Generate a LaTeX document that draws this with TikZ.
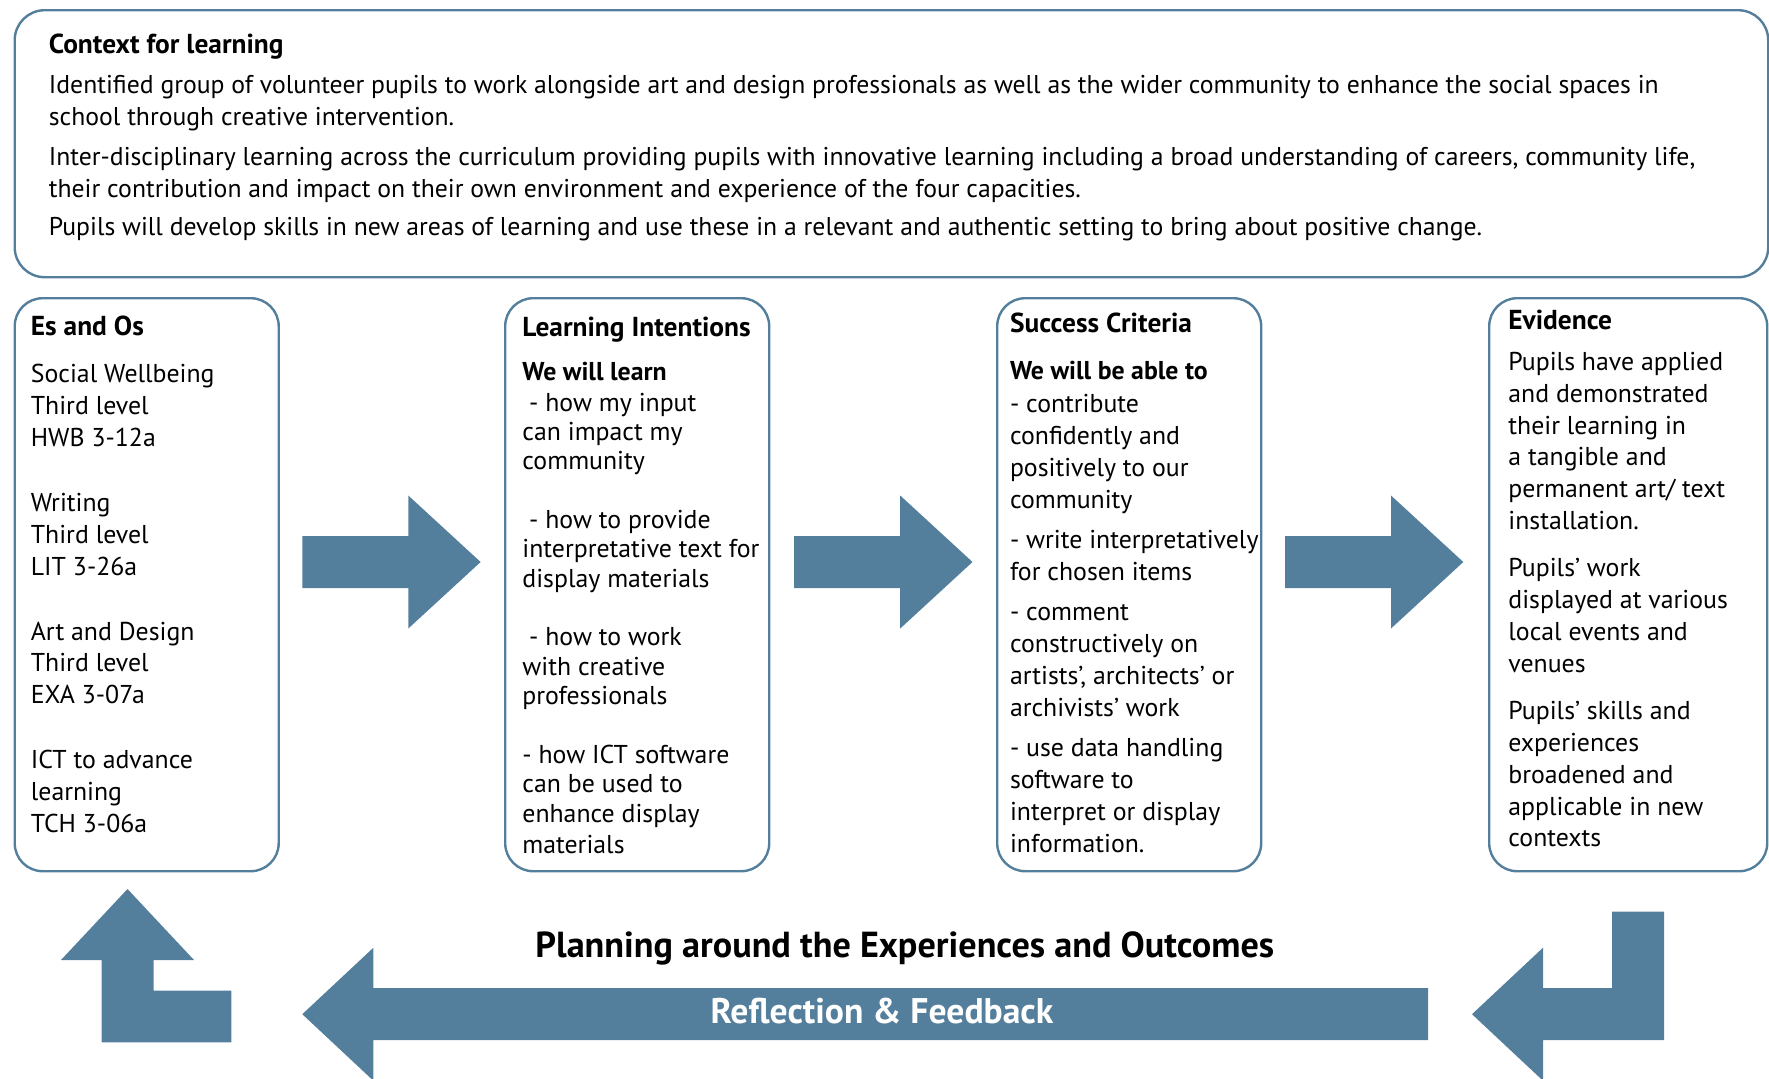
\documentclass[tikz,border=0pt]{standalone}
\usepackage{fontspec}
\setmainfont{PT Sans}
\definecolor{steel}{RGB}{84,127,156}

\newcommand{\topline}{\rule{0pt}{10pt}}
\newcommand{\heading}[1]{{\fontsize{13.7}{15.9}\selectfont\bfseries #1}}

\tikzset{
    panel/.style={draw=steel, line width=1.2pt, rounded corners=14pt, anchor=north west,
        inner sep=0pt, minimum width=132pt, minimum height=286.5pt},
    txt/.style={anchor=north west, align=left, inner sep=0pt, font=\fontsize{12.9}{15.9}\selectfont},
    big/.style={anchor=base, inner sep=0pt, font=\fontsize{17.8}{19}\selectfont\bfseries},
}

\begin{document}
\begin{tikzpicture}[x=0.5pt, y=-0.5pt]
    \useasboundingbox (0,0) rectangle (1769,1078);

    % context for learning
    \node[panel, rounded corners=15pt, minimum width=876.75pt, minimum height=133.5pt] (ctx) at (13.5,9) {};
    \node[txt, font=\fontsize{12.85}{15.85}\selectfont] (ctxtext) at (48.5,33.3) {\topline\heading{Context for learning}\\[4.15pt]
        Identified group of volunteer pupils to work alongside art and design professionals as well as the wider community to enhance the social spaces in\\
        school through creative intervention.\\[4.15pt]
        Inter-disciplinary learning across the curriculum providing pupils with innovative learning including a broad understanding of careers, community life,\\
        their contribution and impact on their own environment and experience of the four capacities.\\[3.5pt]
        Pupils will develop skills in new areas of learning and use these in a relevant and authentic setting to bring about positive change.};

    % the four columns
    \node[panel] (eso) at (13.5,297) {};
    \node[panel] (intent) at (504,297) {};
    \node[panel] (success) at (996,297) {};
    \node[panel, minimum width=139pt] (evidence) at (1488,297) {};

    \node[txt] (esotext) at (30.5,315) {\topline\heading{Es and Os}\\[7.8pt]
        Social Wellbeing\\ Third level\\ HWB 3-12a\\[16.6pt]
        Writing\\ Third level\\ LIT 3-26a\\[16.6pt]
        Art and Design\\ Third level\\ EXA 3-07a\\[16.6pt]
        ICT to advance\\ learning\\ TCH 3-06a};

    \node[txt, font=\fontsize{12.9}{14.7}\selectfont] (intenttext) at (522,316.2) {\topline\heading{Learning Intentions}\\[7.3pt]
        \textbf{We will learn}\\[0.5pt]
        \hspace*{3.4pt}- how my input\\ can impact my\\ community\\[14.6pt]
        \hspace*{3.4pt}- how to provide\\ interpretative text for\\ display materials\\[14.6pt]
        \hspace*{3.4pt}- how to work\\ with creative\\ professionals\\[14.6pt]
        - how ICT software\\ can be used to\\ enhance display\\[1.1pt] materials};

    \node[txt, font=\fontsize{12.9}{16}\selectfont] (successtext) at (1009.6,311.6) {\topline\heading{Success Criteria}\\[7.7pt]
        \textbf{We will be able to}\\[0.4pt]
        - contribute\\ confidently and\\ positively to our\\ community\\[4pt]
        - write interpretatively\\ for chosen items\\[4pt]
        - comment\\ constructively on\\ artists’, architects’ or\\ archivists’ work\\[4pt]
        - use data handling\\ software to\\ interpret or display\\ information.};

    \node[txt] (evidencetext) at (1508,309.4) {\topline\heading{Evidence}\\[4.4pt]
        Pupils have applied\\ and demonstrated\\ their learning in\\ a tangible and\\ permanent art/ text\\ installation.\\[7.8pt]
        Pupils’ work\\ displayed at various\\ local events and\\ venues\\[7.8pt]
        Pupils’ skills and\\ experiences\\ broadened and\\ applicable in new\\ contexts};

    % arrows between the columns
    \foreach \sx in {302.3, 794.2, 1285}
        \fill[steel] (\sx,536) -- ++(106,0) -- ++(0,-40.5) -- ++(72.3,66.5) -- ++(-72.3,66.5)
            -- ++(0,-40.5) -- ++(-106,0) -- cycle;

    % reflection arrow and the two turns
    \fill[steel] (1428.2,988.2) -- (373.4,988.2) -- (373.4,947.7) -- (302.3,1014.2) -- (373.4,1080.7)
        -- (373.4,1040.2) -- (1428.2,1040.2) -- cycle;
    \fill[steel] (1612,911.5) -- (1664,911.5) -- (1664,1040.2) -- (1543,1040.2) -- (1543,1080.7)
        -- (1472,1014.2) -- (1543,947.7) -- (1543,988.2) -- (1612,988.2) -- cycle;
    \fill[steel] (127.5,889) -- (194,960) -- (153.5,960) -- (153.5,990.5) -- (231.3,990.5)
        -- (231.3,1042.4) -- (101.5,1042.4) -- (101.5,960) -- (61,960) -- cycle;

    \node[big, font=\fontsize{18.1}{19}\selectfont\bfseries] (plan) at (904.8,957) {Planning around the Experiences and Outcomes};
    \node[big, text=white] (refl) at (882,1023) {Reflection \& Feedback};
\end{tikzpicture}
\end{document}
